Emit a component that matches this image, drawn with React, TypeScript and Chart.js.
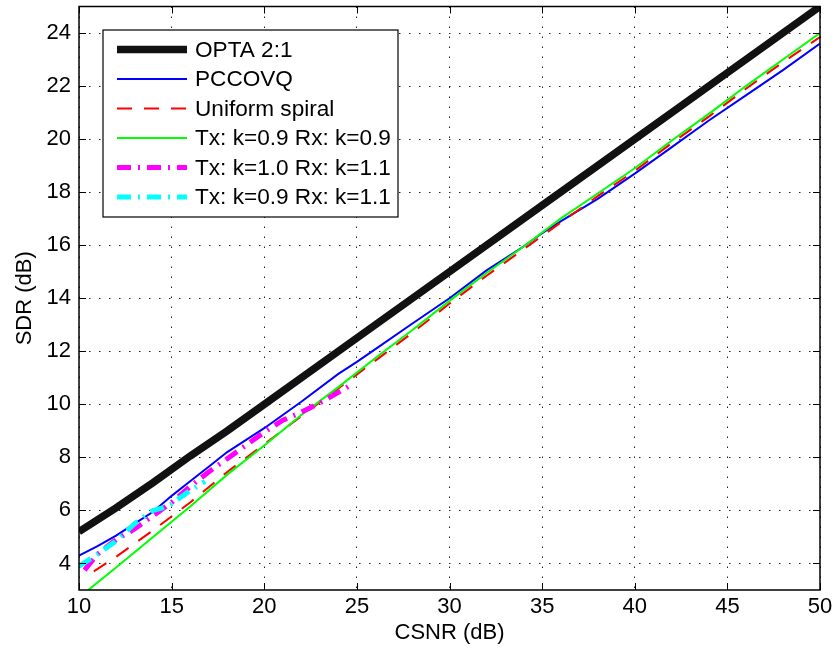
import React, { useEffect, useRef } from "react";
import { Chart, registerables } from "chart.js";
Chart.register(...registerables);

// ---- data ----
const xTicks = [10, 15, 20, 25, 30, 35, 40, 45, 50];
const yTicks = [4, 6, 8, 10, 12, 14, 16, 18, 20, 22, 24];

const optaX = [10, 12, 14, 16, 18, 20, 25, 30, 35, 40, 45, 50];
const optaY = [5.2, 6.1, 7.05, 8.05, 9.0, 10.0, 12.5, 15.0, 17.5, 20.0, 22.5, 25.0];

const pccX = [10, 11, 12, 13, 14, 15, 16, 17, 18, 19, 20, 22, 24, 25, 26, 28, 30, 32, 34, 35, 36, 38, 40, 42, 44, 46, 48, 50];
const pccY = [4.3, 4.65, 5.05, 5.5, 5.95, 6.55, 7.1, 7.65, 8.2, 8.65, 9.1, 10.1, 11.15, 11.6, 12.08, 13.05, 14.0, 15.05, 15.95, 16.45, 16.9, 17.75, 18.7, 19.7, 20.7, 21.65, 22.6, 23.6];

const uniX = [10.8, 12, 14, 16, 18, 20, 22, 24, 26, 28, 30, 32, 34, 36, 38, 40, 42, 44, 46, 48, 50];
const uniY = [3.7, 4.25, 5.25, 6.3, 7.45, 8.5, 9.55, 10.6, 11.65, 12.7, 13.8, 14.85, 15.85, 16.85, 17.85, 18.8, 19.85, 20.85, 21.9, 22.9, 23.85];

const k99X = [10.5, 12, 14, 16, 18, 20, 22, 24, 26, 28, 30, 32, 34, 36, 38, 40, 42, 44, 46, 48, 50];
const k99Y = [3.0, 3.85, 5.0, 6.15, 7.35, 8.45, 9.6, 10.65, 11.75, 12.8, 13.9, 14.95, 15.95, 17.0, 17.95, 18.9, 19.95, 20.95, 22.0, 23.0, 24.0];

const k1011X = [10.3, 11, 12, 13, 14, 15, 16, 17, 18, 19, 20, 21, 22, 23, 24, 24.6];
const k1011Y = [3.75, 4.35, 4.9, 5.3, 5.8, 6.3, 6.9, 7.45, 7.95, 8.45, 8.95, 9.4, 9.7, 10.05, 10.45, 10.7];

const k0911X = [10, 11, 12, 13, 14, 14.5, 15, 16, 16.8];
const k0911Y = [3.9, 4.35, 4.85, 5.5, 6.0, 6.1, 6.25, 6.75, 7.1];

const seriesNames = [
  "OPTA 2:1",
  "PCCOVQ",
  "Uniform spiral",
  "Tx: k=0.9 Rx: k=0.9",
  "Tx: k=1.0 Rx: k=1.1",
  "Tx: k=0.9 Rx: k=1.1",
];

const toPts = (xs: number[], ys: number[]) => xs.map((x, i) => ({ x, y: ys[i] }));

const FONT = '"Liberation Sans", Arial, Helvetica, sans-serif';
const FS = 22;

const framePlugin = {
  id: "matlabFrame",
  afterDraw(chart: any) {
    const { ctx, chartArea } = chart;
    const { left, right, top, bottom } = chartArea;
    const xs = chart.scales.x;
    const ys = chart.scales.y;
    ctx.save();
    ctx.strokeStyle = "#000";
    ctx.lineWidth = 1.5;
    ctx.setLineDash([]);
    ctx.strokeRect(left, top, right - left, bottom - top);
    ctx.lineWidth = 1;
    const tl = 7;
    ctx.beginPath();
    xTicks.forEach((v) => {
      const p = Math.round(xs.getPixelForValue(v)) + 0.5;
      ctx.moveTo(p, bottom);
      ctx.lineTo(p, bottom - tl);
      ctx.moveTo(p, top);
      ctx.lineTo(p, top + tl);
    });
    yTicks.forEach((v) => {
      const p = Math.round(ys.getPixelForValue(v)) + 0.5;
      ctx.moveTo(left, p);
      ctx.lineTo(left + tl, p);
      ctx.moveTo(right, p);
      ctx.lineTo(right - tl, p);
    });
    ctx.stroke();

    // legend box
    const bx = left + 24;
    const by = top + 23.5;
    const bw = 295;
    const bh = 187;
    ctx.fillStyle = "#fff";
    ctx.fillRect(bx, by, bw, bh);
    ctx.strokeStyle = "#000";
    ctx.lineWidth = 1.2;
    ctx.strokeRect(bx, by, bw, bh);
    const rowH = 29.5;
    ctx.font = `22.6px ${FONT}`;
    ctx.textBaseline = "middle";
    ctx.textAlign = "left";
    chart.data.datasets.forEach((ds: any, i: number) => {
      const ry = by + 19.5 + i * rowH;
      ctx.save();
      ctx.strokeStyle = ds.borderColor;
      ctx.lineWidth = ds.borderWidth;
      ctx.setLineDash(ds.borderDash || []);
      ctx.lineCap = "butt";
      ctx.beginPath();
      ctx.moveTo(bx + 14, ry);
      ctx.lineTo(bx + 84, ry);
      ctx.stroke();
      ctx.restore();
      ctx.fillStyle = "#000";
      ctx.fillText(ds.label, bx + 92, ry + 1);
    });
    ctx.restore();
  },
};

export default function App() {
  const ref = useRef<HTMLCanvasElement | null>(null);
  useEffect(() => {
    document.body.style.margin = "0";
    const canvas = ref.current;
    if (!canvas) return;
    const mk = (i: number, data: any[], color: string, width: number, dash: number[], order: number) => ({
      label: seriesNames[i],
      data,
      borderColor: color,
      backgroundColor: color,
      borderWidth: width,
      borderDash: dash,
      pointRadius: 0,
      fill: false,
      tension: 0,
      order,
    });
    const chart = new Chart(canvas, {
      type: "line",
      data: {
        datasets: [
          mk(0, toPts(optaX, optaY), "#111111", 7.5, [], 5),
          mk(1, toPts(pccX, pccY), "#0000ff", 2, [], 4),
          mk(2, toPts(uniX, uniY), "#ff0000", 2, [15, 12], 3),
          mk(3, toPts(k99X, k99Y), "#00ff00", 2, [], 2),
          mk(4, toPts(k1011X, k1011Y), "#ff00ff", 5, [14, 7, 2, 7], 1),
          mk(5, toPts(k0911X, k0911Y), "#00ffff", 5, [14, 7, 2, 7], 0),
        ] as any,
      },
      options: {
        animation: false,
        responsive: false,
        devicePixelRatio: 1,
        layout: { padding: { top: 6.5, right: 15, left: 0, bottom: 0 } },
        plugins: { legend: { display: false }, tooltip: { enabled: false } },
        scales: {
          x: {
            type: "linear",
            min: 10,
            max: 50,
            afterBuildTicks: (s: any) => {
              s.ticks = xTicks.map((v) => ({ value: v }));
            },
            afterFit: (s: any) => {
              s.height = 62;
              s.paddingLeft = 0;
              s.paddingRight = 0;
            },
            grid: { color: "#222", lineWidth: 1, drawTicks: false },
            border: { display: false, dash: [1.5, 8.5] },
            ticks: {
              color: "#000",
              font: { family: FONT, size: FS },
              padding: 4,
              maxRotation: 0,
              autoSkip: false,
            },
            title: {
              display: true,
              text: "CSNR (dB)",
              color: "#000",
              font: { family: FONT, size: FS },
              padding: { top: 0, bottom: 6 },
            },
          },
          y: {
            type: "linear",
            min: 3,
            max: 25,
            afterBuildTicks: (s: any) => {
              s.ticks = yTicks.map((v) => ({ value: v }));
            },
            afterFit: (s: any) => {
              s.width = 79;
              s.paddingTop = 0;
              s.paddingBottom = 0;
            },
            grid: { color: "#222", lineWidth: 1, drawTicks: false },
            border: { display: false, dash: [1.5, 8.5] },
            ticks: {
              color: "#000",
              font: { family: FONT, size: FS },
              padding: 8,
              autoSkip: false,
            },
            title: {
              display: true,
              text: "SDR (dB)",
              color: "#000",
              font: { family: FONT, size: FS },
              padding: { top: 12, bottom: 12 },
            },
          },
        },
      } as any,
      plugins: [framePlugin],
    });
    return () => chart.destroy();
  }, []);
  return (
    <div style={{ position: "fixed", left: 0, top: 0, width: 835, height: 652, background: "#fff" }}>
      <canvas ref={ref} width={835} height={652} style={{ display: "block" }} />
    </div>
  );
}
